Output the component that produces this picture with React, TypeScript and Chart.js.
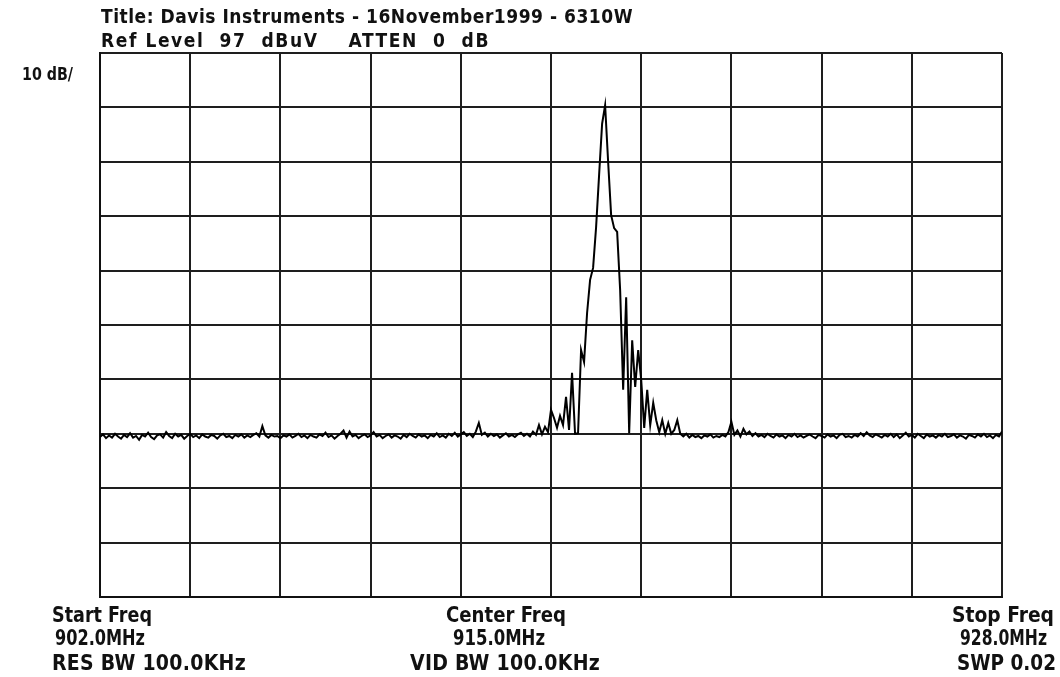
import React, { useEffect, useRef } from "react";
import { Chart, registerables } from "chart.js";

Chart.register(...registerables);

// Sweep definition (MHz)
const START_FREQ = 902.0;
const STOP_FREQ = 928.0;
const SWEEP_POINTS = 301;

// Vertical scale (dBuV): reference level at the top, 10 dB / division
const REF_LEVEL = 97;
const DB_PER_DIV = 10;
const DIVISIONS = 10;

const LEVELS_LEFT_FLOOR: number[] = [
  26.4, 26.9, 26.2, 26.7, 26.3, 27.0, 26.5, 26.1, 26.8, 26.4,
  27.1, 26.3, 26.6, 25.9, 26.8, 26.5, 27.2, 26.4, 26.0, 26.7,
  26.9, 26.3, 27.3, 26.6, 26.2, 27.0, 26.5, 26.8, 26.1, 26.6,
  27.0, 26.4, 26.7, 26.2, 26.9, 26.5, 26.3, 26.8, 26.6, 26.1,
  26.7, 27.0, 26.4, 26.6, 26.2, 26.8, 26.5, 26.9, 26.3, 26.7,
  26.4, 26.8, 27.1, 26.5, 28.4, 26.7, 26.3, 26.8, 26.5, 26.6,
  26.2, 26.7, 26.5, 26.9, 26.3, 26.6, 27.0, 26.4, 26.7, 26.2,
  26.8, 26.5, 26.3, 26.9, 26.6, 27.2, 26.4, 26.7, 26.1, 26.6,
  27.0, 27.6, 26.3, 27.4, 26.5, 26.8, 26.2, 26.6, 26.9, 26.4,
  26.7, 27.3, 26.5, 26.8, 26.2, 26.6, 26.9, 26.3, 26.7, 26.5,
  26.1, 26.8, 26.4, 27.0, 26.6, 26.3, 26.9, 26.5, 26.7, 26.2,
  26.8, 26.5, 27.1, 26.4, 26.7, 26.3, 27.0, 26.6, 27.2, 26.5,
  26.9, 27.3, 26.6, 27.0, 26.4, 27.4, 29.0, 26.8, 27.2, 26.5,
  27.0, 26.6, 26.9, 26.3, 26.7, 27.1, 26.5, 26.8, 26.4, 26.9,
  27.2, 26.6, 27.0, 26.5, 27.4, 26.8, 28.6, 26.9,
];

const LEVELS_SIGNAL: number[] = [
  28.3, 27.3, 31.4, 29.9, 28.1, 30.3, 28.6, 33.8, 27.7, 38.2,
  27.0, 27.1, 42.4, 40.2, 49.2, 55.3, 57.5, 65.0, 74.6, 84.0,
  87.4, 77.0, 67.2, 64.8, 64.1, 53.4, 35.1, 52.1, 27.1, 44.2,
  35.6, 42.4, 36.9, 28.1, 35.1, 28.6, 32.7, 29.5, 27.3, 29.5,
  27.0, 29.0, 27.0, 27.7, 29.5, 27.0,
];

const LEVELS_RIGHT_FLOOR: number[] = [
  26.5, 27.0, 26.3, 26.8, 26.4, 26.6,
  26.2, 26.7, 26.5, 26.9, 26.3, 26.6, 26.4, 26.8, 26.5, 27.3,
  29.2, 26.8, 27.6, 26.5, 27.9, 26.9, 27.4, 26.6, 27.1, 26.5,
  26.8, 26.4, 27.0, 26.6, 26.3, 26.9, 26.5, 26.7, 26.2, 26.8,
  26.5, 27.0, 26.4, 26.7, 26.3, 26.6, 26.9, 26.5, 26.2, 26.8,
  26.6, 26.3, 26.9, 26.5, 26.7, 26.2, 26.8, 27.0, 26.4, 26.6,
  26.3, 26.8, 26.5, 27.1, 26.6, 27.3, 26.7, 26.4, 26.9, 26.6,
  26.3, 26.8, 26.5, 27.0, 26.4, 26.9, 26.2, 26.7, 27.2, 26.5,
  26.8, 26.3, 27.0, 26.6, 26.2, 26.9, 26.5, 26.7, 26.3, 26.8,
  26.5, 27.0, 26.4, 26.6, 26.9, 26.3, 26.7, 26.5, 26.1, 26.8,
  26.6, 26.3, 26.9, 26.5, 27.0, 26.4, 26.7, 26.2, 26.8, 26.5, 27.4,
];

// Annotation texts
const HEADER_TITLE = "Title: Davis Instruments - 16November1999 - 6310W";
const HEADER_REF = "Ref Level  97  dBuV    ATTEN  0  dB";
const SCALE_LABEL = "10 dB/";
const LEFT_LABELS = ["Start Freq", "902.0MHz", "RES BW 100.0KHz"];
const CENTER_LABELS = ["Center Freq", "915.0MHz", "VID BW 100.0KHz"];
const RIGHT_LABELS = ["Stop Freq", "928.0MHz", "SWP 0.02"];

const FONT_FAMILY = '"Liberation Sans Narrow", "DejaVu Sans Condensed", "Liberation Sans", sans-serif';

function drawFitted(
  ctx: CanvasRenderingContext2D,
  text: string,
  left: number,
  baseline: number,
  width: number,
  size: number
) {
  ctx.save();
  ctx.font = `bold ${size}px ${FONT_FAMILY}`;
  ctx.fillStyle = "#111";
  ctx.textAlign = "left";
  ctx.textBaseline = "alphabetic";
  const measured = ctx.measureText(text).width;
  const anyCtx = ctx as any;
  if ("letterSpacing" in anyCtx && measured < width) {
    const ls = (width - measured) / text.length;
    anyCtx.letterSpacing = `${ls}px`;
    ctx.fillText(text, left, baseline);
  } else {
    ctx.translate(left, baseline);
    ctx.scale(width / measured, 1);
    ctx.fillText(text, 0, 0);
  }
  ctx.restore();
}

const textPlugin = {
  id: "analyzerText",
  beforeDraw(chart: any) {
    const ctx = chart.ctx as CanvasRenderingContext2D;
    ctx.save();
    ctx.fillStyle = "#ffffff";
    ctx.fillRect(0, 0, chart.width, chart.height);
    ctx.restore();
  },
  afterDraw(chart: any) {
    const ctx = chart.ctx as CanvasRenderingContext2D;
    drawFitted(ctx, HEADER_TITLE, 101, 23, 532, 19);
    drawFitted(ctx, HEADER_REF, 101, 47, 389, 19);
    drawFitted(ctx, SCALE_LABEL, 22, 80, 51, 18);

    const rows = [622, 645, 670];
    const leftSpans = [
      [52, 100],
      [55, 90],
      [52, 194],
    ];
    const centerSpans = [
      [446, 120],
      [453, 92],
      [410, 190],
    ];
    const rightSpans = [
      [952, 102],
      [960, 87],
      [957, 99],
    ];
    LEFT_LABELS.forEach((t, i) => drawFitted(ctx, t, leftSpans[i][0], rows[i], leftSpans[i][1], 21));
    CENTER_LABELS.forEach((t, i) => drawFitted(ctx, t, centerSpans[i][0], rows[i], centerSpans[i][1], 21));
    RIGHT_LABELS.forEach((t, i) => drawFitted(ctx, t, rightSpans[i][0], rows[i], rightSpans[i][1], 21));
  },
};

export default function App() {
  const canvasRef = useRef<HTMLCanvasElement | null>(null);

  useEffect(() => {
    const canvas = canvasRef.current;
    if (!canvas) return;

    const levels = [...LEVELS_LEFT_FLOOR, ...LEVELS_SIGNAL, ...LEVELS_RIGHT_FLOOR];
    const step = (STOP_FREQ - START_FREQ) / (SWEEP_POINTS - 1);
    const points = levels.map((v, i) => ({ x: START_FREQ + i * step, y: v }));

    const bottom = REF_LEVEL - DB_PER_DIV * DIVISIONS;
    const xTicks = Array.from({ length: DIVISIONS + 1 }, (_, i) => START_FREQ + (i * (STOP_FREQ - START_FREQ)) / DIVISIONS);
    const yTicks = Array.from({ length: DIVISIONS + 1 }, (_, i) => bottom + i * DB_PER_DIV);

    const chart = new Chart(canvas, {
      type: "line",
      data: {
        datasets: [
          {
            data: points,
            borderColor: "#000000",
            borderWidth: 2,
            pointRadius: 0,
            tension: 0,
            fill: false,
          },
        ],
      },
      options: {
        responsive: false,
        animation: false,
        devicePixelRatio: 1,
        layout: { padding: { left: 100, top: 53, right: 58, bottom: 80 } },
        plugins: {
          legend: { display: false },
          tooltip: { enabled: false },
          title: { display: false },
        },
        scales: {
          x: {
            type: "linear",
            min: START_FREQ,
            max: STOP_FREQ,
            afterBuildTicks: (scale: any) => {
              scale.ticks = xTicks.map((v) => ({ value: v }));
            },
            ticks: { display: false },
            grid: { color: "#1e1e1e", lineWidth: 2, drawTicks: false },
            border: { display: true, color: "#111", width: 2 },
          },
          y: {
            type: "linear",
            min: bottom,
            max: REF_LEVEL,
            afterBuildTicks: (scale: any) => {
              scale.ticks = yTicks.map((v) => ({ value: v }));
            },
            ticks: { display: false },
            grid: { color: "#1e1e1e", lineWidth: 2, drawTicks: false },
            border: { display: true, color: "#111", width: 2 },
          },
        },
      },
      plugins: [textPlugin],
    } as any);

    return () => {
      chart.destroy();
    };
  }, []);

  return (
    <div style={{ position: "absolute", left: 0, top: 0, width: 1060, height: 677, background: "#fff" }}>
      <canvas ref={canvasRef} width={1060} height={677} />
    </div>
  );
}
